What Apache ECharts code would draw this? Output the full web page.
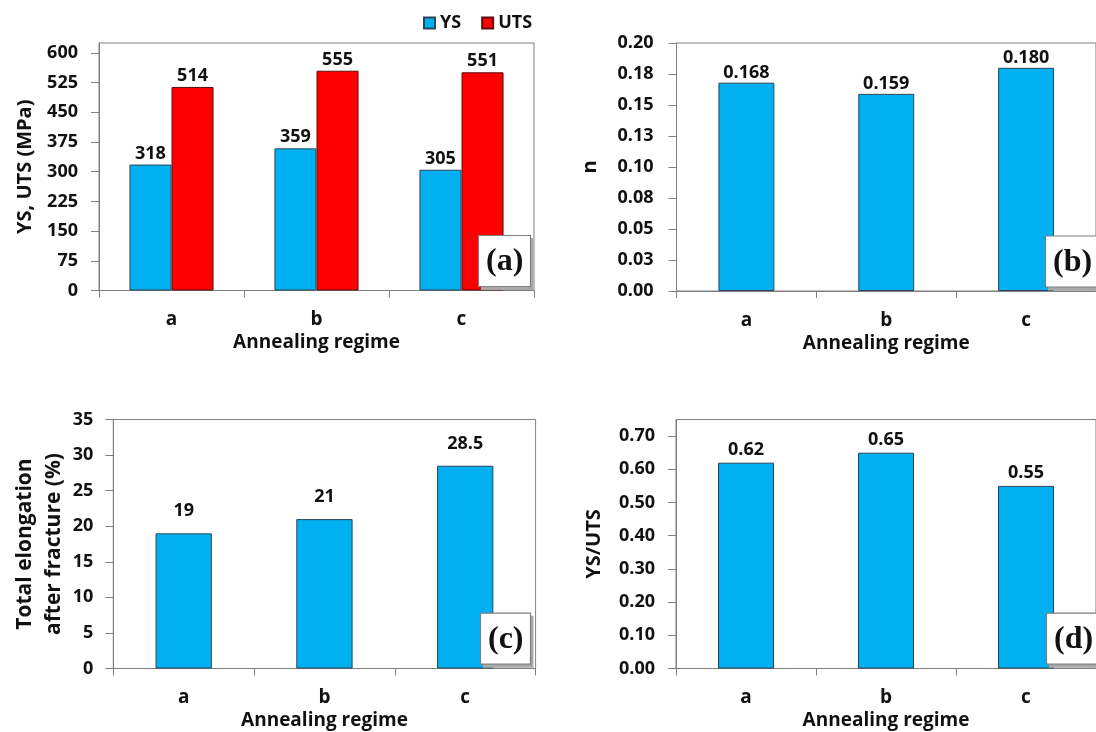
<!DOCTYPE html>
<html><head><meta charset="utf-8">
<script src="https://cdn.jsdelivr.net/npm/echarts@6/dist/echarts.min.js"></script>
<style>html,body{margin:0;padding:0;background:#fff}#chart{width:1096px;height:732px}</style>
</head><body><div id="chart"></div>
<script>
const categories = ['a', 'b', 'c'];
const ysValues = [318, 359, 305];
const utsValues = [514, 555, 551];
const nValues = [0.168, 0.159, 0.180];
const elongationValues = [19, 21, 28.5];
const ratioValues = [0.62, 0.65, 0.55];
const strengthTicks = [0, 75, 150, 225, 300, 375, 450, 525, 600];
const nTickLabels = ['0.00', '0.03', '0.05', '0.08', '0.10', '0.13', '0.15', '0.18', '0.20'];
const elongationTicks = [0, 5, 10, 15, 20, 25, 30, 35];
const ratioTicks = [0, 0.1, 0.2, 0.3, 0.4, 0.5, 0.6, 0.7];
const panelLabels = ['(a)', '(b)', '(c)', '(d)'];

const FONT = 'Open Sans';
const TXT = '#111';
const AX = '#7f7f7f';
const BLUE = '#00b0f0';
const RED = '#ff0000';
const EDGE = '#2b4658';

const chart = echarts.init(document.getElementById('chart'), null, {renderer: 'canvas'});

const grids = [
  {left: 99, top: 43, width: 435, height: 247.5},
  {left: 676.5, top: 43, width: 426.6, height: 248},
  {left: 113.3, top: 419.5, width: 422.3, height: 249},
  {left: 676, top: 419.5, width: 426.6, height: 249}
].map(g => Object.assign({show: true, borderColor: AX, borderWidth: 1, backgroundColor: 'transparent'}, g));

function xAx(i) {
  return {
    type: 'category', gridIndex: i, data: categories,
    name: 'Annealing regime', nameLocation: 'middle', nameGap: 43,
    nameTextStyle: {fontFamily: FONT, fontWeight: 'bold', fontSize: 19, color: TXT},
    axisLine: {lineStyle: {color: AX, width: 1}},
    axisTick: {show: true, alignWithLabel: false, length: 7, inside: false, lineStyle: {color: AX}},
    axisLabel: {fontFamily: FONT, fontWeight: 'bold', fontSize: 19, color: TXT, margin: 20},
    splitLine: {show: false}
  };
}
function yAx(i, extra, nameCfg) {
  return Object.assign({
    type: 'value', gridIndex: i, min: 0,
    nameLocation: 'middle', nameRotate: 90,
    nameTextStyle: Object.assign({fontFamily: FONT, fontWeight: 'bold', fontSize: 20, color: TXT}, nameCfg || {}),
    axisLine: {show: true, lineStyle: {color: AX, width: 1}},
    splitLine: {show: false}
  }, extra);
}
const tickStyle = {show: true, length: 8, inside: false, lineStyle: {color: AX}};
const labStyle = {fontFamily: FONT, fontWeight: 'bold', fontSize: 18, color: TXT};

const yAxes = [
  yAx(0, {max: 625, name: 'YS, UTS (MPa)', nameGap: 64,
    axisTick: Object.assign({customValues: strengthTicks}, tickStyle),
    axisLabel: Object.assign({customValues: strengthTicks, margin: 21}, labStyle)}),
  yAx(1, {max: 0.2, interval: 0.025, name: 'n', nameGap: 76,
    axisTick: tickStyle,
    axisLabel: Object.assign({margin: 23, formatter: v => nTickLabels[Math.round(v / 0.025)]}, labStyle)}),
  yAx(2, {max: 35, interval: 5, name: 'Total elongation\nafter fracture (%)', nameGap: 44,
    axisTick: Object.assign({customValues: elongationTicks}, tickStyle),
    axisLabel: Object.assign({customValues: elongationTicks, margin: 20}, labStyle)}, {fontSize: 21, lineHeight: 29}),
  yAx(3, {max: 0.75, name: 'YS/UTS', nameGap: 72,
    axisTick: Object.assign({customValues: ratioTicks}, tickStyle),
    axisLabel: Object.assign({customValues: ratioTicks, margin: 21, formatter: v => v.toFixed(2)}, labStyle)})
];

function barLabel(dist, digits) {
  return {show: true, position: 'top', distance: dist, fontFamily: FONT, fontWeight: 'bold', fontSize: 18, color: TXT,
    formatter: p => digits == null ? String(p.value) : Number(p.value).toFixed(digits)};
}
const blueStyle = {color: BLUE, borderColor: EDGE, borderWidth: 1};
const redStyle = {color: RED, borderColor: '#5a1010', borderWidth: 1};

const series = [
  {name: 'YS', type: 'bar', xAxisIndex: 0, yAxisIndex: 0, data: ysValues, barGap: '0%', barCategoryGap: '42%', itemStyle: blueStyle, label: barLabel(2)},
  {name: 'UTS', type: 'bar', xAxisIndex: 0, yAxisIndex: 0, data: utsValues, barGap: '0%', barCategoryGap: '42%', itemStyle: redStyle, label: barLabel(2)},
  {name: 'n', type: 'bar', xAxisIndex: 1, yAxisIndex: 1, data: nValues, barCategoryGap: '60%', itemStyle: blueStyle, label: barLabel(1, 3)},
  {name: 'Elongation', type: 'bar', xAxisIndex: 2, yAxisIndex: 2, data: elongationValues, barCategoryGap: '60%', itemStyle: blueStyle, label: barLabel(13)},
  {name: 'YS/UTS', type: 'bar', xAxisIndex: 3, yAxisIndex: 3, data: ratioValues, barCategoryGap: '60%', itemStyle: blueStyle, label: barLabel(4, 2)}
];

const boxPos = [[478, 235], [1045, 235.5], [480, 612.7], [1046, 612.7]];
const boxText = {fontFamily: 'Liberation Serif', fontWeight: 'bold', fontSize: 32, lineHeight: 32};
const shadows = panelLabels.map((t, i) => ({
  text: t, left: boxPos[i][0] + 3, top: boxPos[i][1] + 3, padding: [11, 7, 9, 8],
  backgroundColor: '#a8a8a8', borderWidth: 0,
  textStyle: Object.assign({color: 'rgba(0,0,0,0)'}, boxText), z: 9
}));
const titles = panelLabels.map((t, i) => ({
  text: t, left: boxPos[i][0], top: boxPos[i][1], padding: [11, 7, 9, 8],
  backgroundColor: '#fff', borderColor: AX, borderWidth: 1.2,
  textStyle: Object.assign({color: TXT}, boxText), z: 10
}));

chart.setOption({
  animation: false,
  backgroundColor: '#fff',
  title: shadows.concat(titles),
  legend: {data: ['YS', 'UTS'], left: 418, top: 9, icon: 'rect', itemWidth: 11, itemHeight: 11, itemGap: 20,
    textStyle: {fontFamily: FONT, fontWeight: 'bold', fontSize: 18, color: TXT}},
  grid: grids,
  xAxis: [0, 1, 2, 3].map(xAx),
  yAxis: yAxes,
  series: series
});
</script></body></html>
